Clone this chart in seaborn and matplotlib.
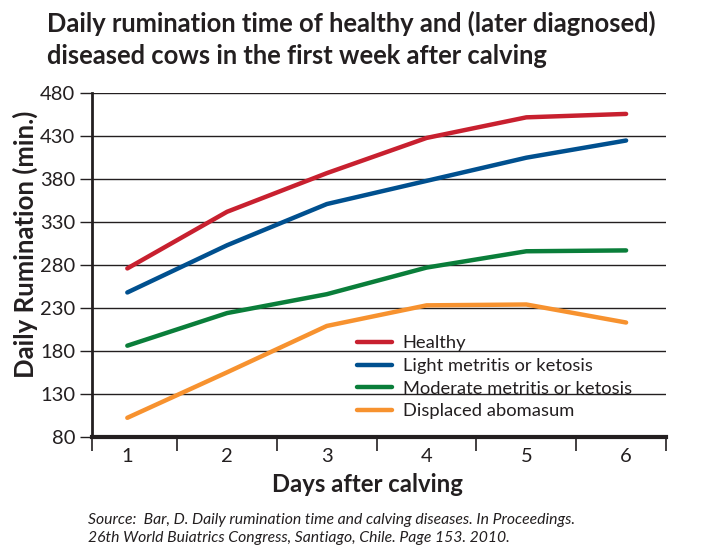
import pandas as pd
import matplotlib.pyplot as plt
import seaborn as sns

# values
days = [1, 2, 3, 4, 5, 6]
healthy = [276, 342, 387, 428, 452, 456]
light = [248, 303, 351, 378, 405, 425]
moderate = [186, 224, 246, 277, 296, 297]
displaced = [102, 155, 209, 233, 234, 213]
groups = ['Healthy', 'Light metritis or ketosis', 'Moderate metritis or ketosis', 'Displaced abomasum']
colors = ['#c8202f', '#00508f', '#0a7e3a', '#f7922f']
y_ticks = [80, 130, 180, 230, 280, 330, 380, 430, 480]
title_lines = ['Daily rumination time of healthy and (later diagnosed)',
               'diseased cows in the first week after calving']
source_lines = ['Source:  Bar, D. Daily rumination time and calving diseases. In Proceedings.',
                '26th World Buiatrics Congress, Santiago, Chile. Page 153. 2010.']

df = pd.DataFrame({
    'day': days * 4,
    'minutes': healthy + light + moderate + displaced,
    'group': [g for g in groups for _ in days],
})

sns.set_style('white')
plt.rcParams['font.family'] = ['Lato', 'DejaVu Sans']
ink = '#231f20'

fig = plt.figure(figsize=(7.01, 5.56), dpi=100)
ax = fig.add_axes([92 / 701, 1 - 436.7 / 556, 574 / 701, 343.4 / 556])

sns.lineplot(data=df, x='day', y='minutes', hue='group', hue_order=groups,
             palette=dict(zip(groups, colors)), linewidth=3.2,
             solid_capstyle='round', ax=ax)

ax.set_xlim(0.646, 6.40)
ax.set_ylim(80, 480)
ax.set_yticks(y_ticks)
ax.grid(axis='y', color=ink, linewidth=1)
ax.set_axisbelow(True)
ax.tick_params(axis='y', left=True, length=9, width=1, color=ink,
               labelsize=14.5, labelcolor=ink, pad=3)

# tick marks sit between the days, labels on the days
ax.set_xticks([0.646, 1.5, 2.5, 3.5, 4.5, 5.5, 6.4])
ax.set_xticklabels([])
ax.set_xticks(days, minor=True)
ax.set_xticklabels([str(d) for d in days], minor=True)
ax.tick_params(axis='x', which='major', bottom=True, length=10, width=1.2, color=ink)
ax.tick_params(axis='x', which='minor', bottom=True, length=0, labelsize=14.5,
               labelcolor=ink, pad=8)

for side in ['top', 'right']:
    ax.spines[side].set_visible(False)
ax.spines['left'].set_color(ink)
ax.spines['left'].set_linewidth(2)
ax.spines['bottom'].set_color(ink)
ax.spines['bottom'].set_linewidth(3)
ax.set_xlabel('')
ax.set_ylabel('')

handles, labels = ax.get_legend_handles_labels()
ax.legend(handles, labels, frameon=False, loc='upper left',
          bbox_to_anchor=(0.4617, 0.295), fontsize=13.2, handlelength=1.9,
          handletextpad=0.6, labelspacing=0.36, borderpad=0, borderaxespad=0,
          labelcolor=ink)

fig.text(47 / 701, 1 - 32 / 556, title_lines[0], fontsize=18.4, fontweight='bold',
         color=ink, va='baseline')
fig.text(47 / 701, 1 - 64 / 556, title_lines[1], fontsize=18.4, fontweight='bold',
         color=ink, va='baseline')
fig.text(25 / 701, 1 - 244 / 556, 'Daily Rumination (min.)', rotation=90,
         fontsize=18.5, fontweight='bold', color=ink, ha='center', va='center')
fig.text(367 / 701, 1 - 484 / 556, 'Days after calving', fontsize=17.2,
         fontweight='bold', color=ink, ha='center', va='center')
fig.text(88 / 701, 1 - 520 / 556, source_lines[0], fontsize=11.3, style='italic',
         color=ink, va='center')
fig.text(88 / 701, 1 - 538 / 556, source_lines[1], fontsize=11.3, style='italic',
         color=ink, va='center')

fig.savefig('out.png', dpi=100)
